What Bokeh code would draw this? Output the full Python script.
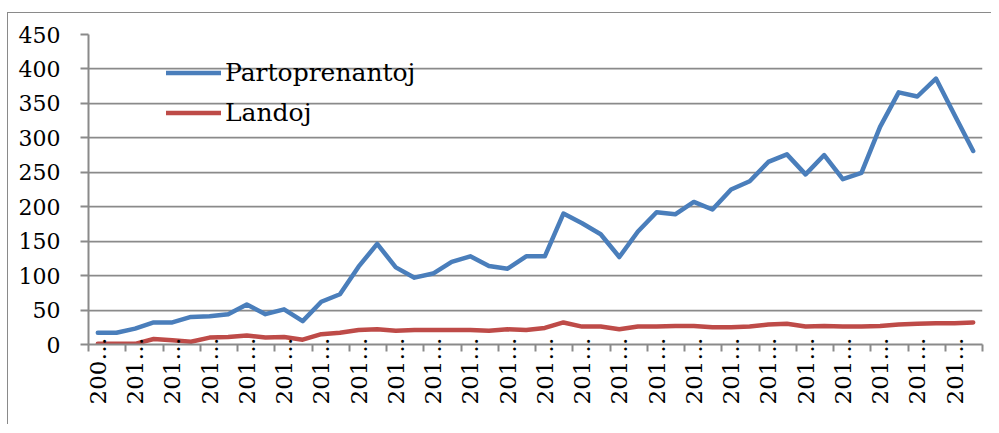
import math
from bokeh.plotting import figure
from bokeh.models import (FixedTicker, Range1d, Legend, LegendItem, ColumnDataSource)
from bokeh.embed import file_html
from bokeh.resources import INLINE

# ---- data ----
TICK_LABELS = ["200…"] + ["201…"] * 23
PARTOPRENANTOJ = [17, 17, 23, 32, 32, 40, 41, 44, 58, 44, 51, 34, 62, 73, 113, 146,
                  112, 97, 103, 120, 128, 114, 110, 128, 128, 190, 176, 160, 127, 164,
                  192, 189, 207, 196, 225, 237, 265, 276, 247, 275, 240, 249, 316, 366,
                  360, 386, 333, 281]
LANDOJ = [1, 1, 1, 8, 6, 4, 10, 11, 13, 10, 11, 7, 15, 17, 21, 22,
          20, 21, 21, 21, 21, 20, 22, 21, 24, 32, 26, 26, 22, 26,
          26, 27, 27, 25, 25, 26, 29, 30, 26, 27, 26, 26, 27, 29,
          30, 31, 31, 32]
Y_TICKS = [0, 50, 100, 150, 200, 250, 300, 350, 400, 450]

n = len(PARTOPRENANTOJ)
idx = list(range(n))
src = ColumnDataSource(dict(x=idx, p=PARTOPRENANTOJ, l=LANDOJ))

FONT = "DejaVu Serif"
GRAY = "#8a8a8a"

p = figure(frame_width=894, frame_height=310, output_backend="svg", toolbar_location=None,
           x_range=Range1d(-0.5, n - 0.5), y_range=Range1d(0, 450),
           min_border_left=80, min_border_right=9, min_border_top=21,
           min_border_bottom=80)
p.styles = {"margin-top": "12px", "margin-left": "7px",
            "border-top": "1px solid #8a8a8a", "border-left": "1px solid #8a8a8a"}
p.outline_line_color = None
p.background_fill_color = "white"

r1 = p.line("x", "p", source=src, line_color="#4a7ebb", line_width=4.5,
            line_join="round", line_cap="round")
r2 = p.line("x", "l", source=src, line_color="#be4b48", line_width=4.5,
            line_join="round", line_cap="round")

# x axis
major = list(range(0, n, 2))
minor = [i - 0.5 for i in range(0, n + 1, 2)]
p.xaxis.ticker = FixedTicker(ticks=major, minor_ticks=minor)
p.xaxis.major_label_overrides = {t: lab for t, lab in zip(major, TICK_LABELS)}
p.xaxis.major_label_orientation = math.pi / 2
p.xaxis.major_tick_out = 0
p.xaxis.major_tick_in = 0
p.xaxis.minor_tick_out = 7
p.xaxis.minor_tick_in = 0
p.xaxis.minor_tick_line_color = GRAY
p.xaxis.minor_tick_line_width = 2
p.xaxis.major_label_standoff = -14
p.xgrid.grid_line_color = None

# y axis
p.yaxis.ticker = FixedTicker(ticks=Y_TICKS)
p.yaxis.major_tick_out = 8
p.yaxis.major_tick_in = 0
p.yaxis.minor_tick_line_color = None
p.yaxis.major_label_standoff = 20
p.ygrid.grid_line_color = GRAY
p.ygrid.grid_line_width = 1.75

for ax in (p.xaxis, p.yaxis):
    ax.axis_line_color = GRAY
    ax.axis_line_width = 2
    ax.major_tick_line_color = GRAY
    ax.major_tick_line_width = 2
    ax.major_label_text_color = "black"
    ax.major_label_text_font = FONT
p.xaxis.major_label_text_font_size = "23px"
p.yaxis.major_label_text_font_size = "22px"

legend = Legend(items=[LegendItem(label="Partoprenantoj", renderers=[r1]),
                       LegendItem(label="Landoj", renderers=[r2])],
                location=(78, 213), border_line_color=None,
                background_fill_alpha=0, padding=0, margin=0, spacing=3,
                label_height=37, glyph_height=37, glyph_width=55,
                label_standoff=4, label_text_font=FONT,
                label_text_font_size="25px", label_text_color="black")
p.add_layout(legend, "center")

open("out.html", "w").write(file_html(p, INLINE))
